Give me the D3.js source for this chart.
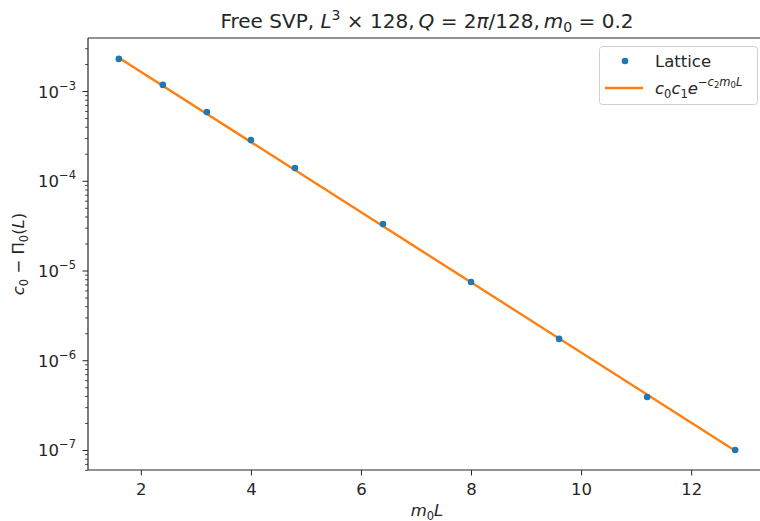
<!DOCTYPE html>
<html><head><meta charset="utf-8">
<script src="https://cdn.jsdelivr.net/npm/d3@7/dist/d3.min.js"></script>
<style>body{margin:0;background:#fff}svg{display:block}text{font-family:"DejaVu Sans",sans-serif;fill:#262626}</style>
</head><body><svg id="c" width="760" height="521"></svg>
<script>
// Data
const m0L = [1.6, 2.4, 3.2, 4.0, 4.8, 6.4, 8.0, 9.6, 11.2, 12.8];
const lattice = [2.28e-3, 1.17e-3, 5.84e-4, 2.84e-4, 1.39e-4, 3.30e-5, 7.45e-6, 1.73e-6, 3.90e-7, 1.0e-7];
const fitX = [1.6, 12.8];
const fitY = [2.35e-3, 0.98e-7];
const xTicks = [2, 4, 6, 8, 10, 12];
const yTickExp = [-3, -4, -5, -6, -7];

const svg = d3.select("#c");
const L = 88, R = 766, T = 38, B = 470;
const x = d3.scaleLinear().domain([1.04, 13.36]).range([L, R]);
const y = d3.scaleLog().domain([Math.pow(10, -7.223), Math.pow(10, -2.409)]).range([B, T]);

const ink = "#262626";
const FS = 16.5, SUB = 11.5;
// axes frame
svg.append("line").attr("x1", L).attr("x2", L).attr("y1", T).attr("y2", B).attr("stroke", ink).attr("stroke-width", 1.2);
svg.append("line").attr("x1", L).attr("x2", R).attr("y1", B).attr("y2", B).attr("stroke", ink).attr("stroke-width", 1.2);
svg.append("line").attr("x1", L).attr("x2", R).attr("y1", T).attr("y2", T).attr("stroke", ink).attr("stroke-width", 1.2);

// x axis
const xa = svg.append("g").attr("transform", `translate(0,${B})`)
  .call(d3.axisBottom(x).tickValues(xTicks).tickSize(5.5).tickPadding(8).tickFormat(d3.format("d")));
xa.select(".domain").remove();
xa.selectAll(".tick line").attr("stroke", ink).attr("stroke-width", 1);
xa.selectAll(".tick text").attr("font-size", FS).attr("font-family", "DejaVu Sans").attr("fill", ink);

// y axis major ticks
const majors = yTickExp.map(e => Math.pow(10, e));
const minors = [];
for (let e = -8; e <= -2; e++) for (let k = 2; k <= 9; k++) {
  const v = k * Math.pow(10, e);
  if (v >= y.domain()[0] && v <= y.domain()[1]) minors.push(v);
}
const ya = svg.append("g").attr("transform", `translate(${L},0)`)
  .call(d3.axisLeft(y).tickValues(majors).tickSize(5.5).tickFormat(""));
ya.select(".domain").remove();
ya.selectAll(".tick line").attr("stroke", ink).attr("stroke-width", 1);
const ym = svg.append("g").attr("transform", `translate(${L},0)`)
  .call(d3.axisLeft(y).tickValues(minors).tickSize(3).tickFormat(""));
ym.select(".domain").remove();
ym.selectAll(".tick line").attr("stroke", ink).attr("stroke-width", 0.8);

// y tick labels
yTickExp.forEach(e => {
  const t = svg.append("text").attr("x", 76).attr("y", y(Math.pow(10, e)) + 6.5)
    .attr("text-anchor", "end").attr("font-size", FS);
  t.append("tspan").text("10");
  t.append("tspan").attr("dy", -8).attr("font-size", SUB).text("\u2212" + Math.abs(e));
});

// fit line
svg.append("path").datum(fitX.map((d, i) => [d, fitY[i]]))
  .attr("d", d3.line().x(d => x(d[0])).y(d => y(d[1])))
  .attr("fill", "none").attr("stroke", "#ff7f0e").attr("stroke-width", 2.4);

// points
svg.selectAll("circle.p").data(m0L).enter().append("circle").attr("class", "p")
  .attr("cx", d => x(d)).attr("cy", (d, i) => y(lattice[i])).attr("r", 3.3)
  .attr("fill", "#1f77b4");

// title
const tt = svg.append("text").attr("x", (L + R) / 2).attr("y", 28).attr("text-anchor", "middle").attr("font-size", 20);
tt.append("tspan").text("Free SVP, ");
tt.append("tspan").attr("font-style", "italic").text("L");
tt.append("tspan").attr("dy", -8).attr("font-size", 14).text("3");
tt.append("tspan").attr("dy", 8).text(" \u00d7 128,");
tt.append("tspan").attr("font-style", "italic").text("\u2009Q");
tt.append("tspan").text(" = 2");
tt.append("tspan").attr("font-style", "italic").text("\u03c0");
tt.append("tspan").text("/128,");
tt.append("tspan").attr("font-style", "italic").text("\u2009m");
tt.append("tspan").attr("dy", 4).attr("font-size", 14).text("0");
tt.append("tspan").attr("dy", -4).text(" = 0.2");

// x label
const xl = svg.append("text").attr("x", (L + R) / 2).attr("y", 516).attr("text-anchor", "middle").attr("font-size", FS);
xl.append("tspan").attr("font-style", "italic").text("m");
xl.append("tspan").attr("dy", 3.5).attr("font-size", SUB).text("0");
xl.append("tspan").attr("dy", -3.5).attr("font-style", "italic").text("L");

// y label
const yl = svg.append("text").attr("transform", `translate(24,${(T + B) / 2}) rotate(-90)`).attr("text-anchor", "middle").attr("font-size", FS);
yl.append("tspan").attr("font-style", "italic").text("c");
yl.append("tspan").attr("dy", 3.5).attr("font-size", SUB).text("0");
yl.append("tspan").attr("dy", -3.5).text(" \u2212 \u03a0");
yl.append("tspan").attr("dy", 3.5).attr("font-size", SUB).text("0");
yl.append("tspan").attr("dy", -3.5).text("(");
yl.append("tspan").attr("font-style", "italic").text("L");
yl.append("tspan").text(")");

// legend
const lg = svg.append("g");
lg.append("rect").attr("x", 599.5).attr("y", 46.5).attr("width", 158).attr("height", 58).attr("rx", 3)
  .attr("fill", "#fff").attr("fill-opacity", 0.8).attr("stroke", "#d0d0d0");
lg.append("circle").attr("cx", 625).attr("cy", 61).attr("r", 3.3).attr("fill", "#1f77b4");
lg.append("text").attr("x", 655).attr("y", 67).attr("font-size", FS).text("Lattice");
lg.append("line").attr("x1", 605).attr("x2", 643).attr("y1", 88).attr("y2", 88).attr("stroke", "#ff7f0e").attr("stroke-width", 2.4);
const lt = lg.append("text").attr("x", 655).attr("y", 94).attr("font-size", FS);
lt.append("tspan").attr("font-style", "italic").text("c");
lt.append("tspan").attr("dy", 3.5).attr("font-size", SUB).text("0");
lt.append("tspan").attr("dy", -3.5).attr("font-style", "italic").text("c");
lt.append("tspan").attr("dy", 3.5).attr("font-size", SUB).text("1");
lt.append("tspan").attr("dy", -3.5).attr("font-style", "italic").text("e");
lt.append("tspan").attr("dy", -8).attr("font-size", SUB).text("\u2212");
lt.append("tspan").attr("font-size", SUB).attr("font-style", "italic").text("c");
lt.append("tspan").attr("dy", 2).attr("font-size", 8.5).text("2");
lt.append("tspan").attr("dy", -2).attr("font-size", SUB).attr("font-style", "italic").text("m");
lt.append("tspan").attr("dy", 2).attr("font-size", 8.5).text("0");
lt.append("tspan").attr("dy", -2).attr("font-size", SUB).attr("font-style", "italic").text("L");
</script></body></html>
